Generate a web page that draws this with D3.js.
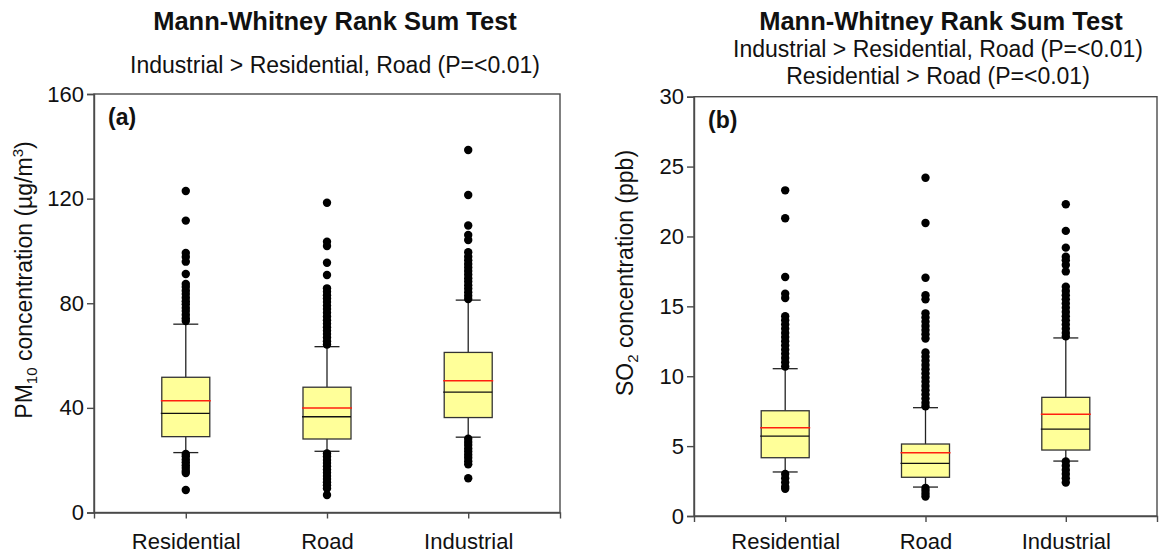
<!DOCTYPE html>
<html>
<head>
<meta charset="utf-8">
<script src="https://cdn.jsdelivr.net/npm/d3@7"></script>
<style>
  html, body { margin: 0; padding: 0; background: #fff; }
  svg { display: block; font-family: "Liberation Sans", Arial, sans-serif; }
</style>
</head>
<body>
<svg id="chart" width="1159" height="553"></svg>
<script>
// ---- data -------------------------------------------------------------
const categories = ["Residential", "Road", "Industrial"];

// PM10 (µg/m3) box statistics per site type
const pm10Q1 = [29.0, 28.1, 36.3];
const pm10Median = [37.9, 36.6, 46.0];
const pm10Q3 = [51.7, 47.9, 61.2];
const pm10Mean = [42.7, 40.0, 50.4];
const pm10WhiskerLow = [22.9, 23.4, 28.8];
const pm10WhiskerHigh = [72.0, 63.4, 81.2];
const pm10OutResidential = [122.9, 111.6, 99.2, 97.7, 95.9, 91.2, 87.4, 86.2, 84.8, 83.5, 82.1, 80.8,
  79.6, 78.2, 77.0, 75.6, 74.3, 73.2, 22.4, 21.5, 20.3, 19.2, 18.1, 17.0, 15.9, 15.1, 8.6];
const pm10OutRoad = [118.4, 103.5, 101.9, 95.5, 90.8, 85.7, 84.4, 83.1, 81.8, 80.5, 79.1, 77.8, 76.4,
  74.9, 73.5, 72.2, 70.8, 69.5, 68.2, 66.9, 65.5, 64.2, 22.6, 21.4, 20.1, 18.9, 17.7, 16.4, 15.2,
  14.0, 12.8, 11.6, 10.4, 9.2, 6.7];
const pm10OutIndustrial = [138.6, 121.4, 109.7, 106.1, 104.2, 99.5, 97.8, 96.4, 95.0, 93.7, 92.3,
  91.0, 89.6, 88.3, 86.9, 85.6, 84.2, 82.9, 81.6, 28.2, 27.0, 25.8, 24.5, 23.3, 22.1, 20.9, 19.6,
  18.4, 13.1];
const pm10Ticks = [0, 40, 80, 120, 160];

// SO2 (ppb) box statistics per site type
const so2Q1 = [4.17, 2.77, 4.72];
const so2Median = [5.72, 3.77, 6.22];
const so2Q3 = [7.53, 5.15, 8.49];
const so2Mean = [6.32, 4.53, 7.28];
const so2WhiskerLow = [3.15, 2.07, 3.93];
const so2WhiskerHigh = [10.54, 7.75, 12.74];
const so2OutResidential = [23.3, 21.3, 17.1, 15.9, 15.6, 14.3, 14.0, 13.7, 13.4, 13.1, 12.8, 12.5,
  12.2, 11.9, 11.6, 11.3, 11.0, 10.7, 3.0, 2.7, 2.4, 2.1, 1.95];
const so2OutRoad = [24.2, 20.96, 17.05, 15.8, 15.5, 14.5, 14.2, 13.9, 13.6, 13.3, 13.0, 12.7, 11.7,
  11.4, 11.1, 10.8, 10.5, 10.2, 9.9, 9.6, 9.3, 9.0, 8.7, 8.4, 8.1, 7.85, 2.0, 1.8, 1.6, 1.4];
const so2OutIndustrial = [22.3, 20.4, 19.2, 18.55, 18.3, 17.96, 17.5, 16.4, 16.1, 15.8, 15.5, 15.2,
  14.9, 14.6, 14.3, 14.0, 13.7, 13.4, 13.1, 12.85, 3.9, 3.6, 3.3, 3.0, 2.7, 2.4];
const so2Ticks = [0, 5, 10, 15, 20, 25, 30];

// ---- drawing ------------------------------------------------------------
const svg = d3.select("#chart");
const FONT = 22;
const axisColor = "#4a4a4a";

function buildRows(q1, med, q3, mean, wLo, wHi, outs) {
  return categories.map((c, i) => ({
    cat: c, q1: q1[i], median: med[i], q3: q3[i], mean: mean[i],
    lo: wLo[i], hi: wHi[i], outliers: outs[i]
  }));
}

function drawPanel(cfg) {
  const { x0, x1, yTop, yBottom, yMax, ticks, rows, tag, labelPad } = cfg;
  const g = svg.append("g");

  const x = d3.scalePoint().domain(categories).range([x0, x1]).padding(0.65);
  const y = d3.scaleLinear().domain([0, yMax]).range([yBottom, yTop]);

  // frame (top and right sides)
  g.append("rect")
    .attr("x", x0).attr("y", yTop)
    .attr("width", x1 - x0).attr("height", yBottom - yTop)
    .attr("fill", "none").attr("stroke", axisColor).attr("stroke-width", 1.4);

  // axes
  const yAxis = g.append("g").attr("transform", `translate(${x0},0)`)
    .call(d3.axisLeft(y).tickValues(ticks).tickSize(7).tickPadding(3).tickFormat(d3.format("d")));
  const xAxis = g.append("g").attr("transform", `translate(0,${yBottom})`)
    .call(d3.axisBottom(x).tickSize(6).tickPadding(labelPad));
  [yAxis, xAxis].forEach(a => {
    a.select(".domain").attr("stroke", axisColor).attr("stroke-width", 1.4);
    a.selectAll(".tick line").attr("stroke", axisColor).attr("stroke-width", 1.4);
    a.selectAll(".tick text").attr("font-size", FONT).attr("fill", "#111")
      .attr("font-family", "Liberation Sans, Arial, sans-serif");
  });

  const boxW = 48, capW = 25, r = 4.2;
  const boxes = g.selectAll("g.box").data(rows).join("g").attr("class", "box");

  // whiskers
  boxes.append("line")
    .attr("x1", d => x(d.cat)).attr("x2", d => x(d.cat))
    .attr("y1", d => y(d.hi)).attr("y2", d => y(d.q3))
    .attr("stroke", "#222").attr("stroke-width", 1.3);
  boxes.append("line")
    .attr("x1", d => x(d.cat)).attr("x2", d => x(d.cat))
    .attr("y1", d => y(d.q1)).attr("y2", d => y(d.lo))
    .attr("stroke", "#222").attr("stroke-width", 1.3);
  boxes.append("line")
    .attr("x1", d => x(d.cat) - capW / 2).attr("x2", d => x(d.cat) + capW / 2)
    .attr("y1", d => y(d.hi)).attr("y2", d => y(d.hi))
    .attr("stroke", "#222").attr("stroke-width", 1.3);
  boxes.append("line")
    .attr("x1", d => x(d.cat) - capW / 2).attr("x2", d => x(d.cat) + capW / 2)
    .attr("y1", d => y(d.lo)).attr("y2", d => y(d.lo))
    .attr("stroke", "#222").attr("stroke-width", 1.3);

  // box body
  boxes.append("rect")
    .attr("x", d => x(d.cat) - boxW / 2).attr("width", boxW)
    .attr("y", d => y(d.q3)).attr("height", d => y(d.q1) - y(d.q3))
    .attr("fill", "#ffff99").attr("stroke", "#333").attr("stroke-width", 1.3);

  // median (black) and mean (red)
  boxes.append("line")
    .attr("x1", d => x(d.cat) - boxW / 2 - 1).attr("x2", d => x(d.cat) + boxW / 2)
    .attr("y1", d => y(d.median)).attr("y2", d => y(d.median))
    .attr("stroke", "#111").attr("stroke-width", 1.3);
  boxes.append("line")
    .attr("x1", d => x(d.cat) - boxW / 2 - 1).attr("x2", d => x(d.cat) + boxW / 2 + 1)
    .attr("y1", d => y(d.mean)).attr("y2", d => y(d.mean))
    .attr("stroke", "#ff2010").attr("stroke-width", 1.5);

  // outliers
  boxes.selectAll("circle").data(d => d.outliers.map(v => ({ cat: d.cat, v })))
    .join("circle")
    .attr("cx", d => x(d.cat)).attr("cy", d => y(d.v)).attr("r", r)
    .attr("fill", "#000");

  // panel tag
  g.append("text").attr("x", x0 + 14).attr("y", yTop + 31)
    .attr("font-size", 23).attr("font-weight", "bold").attr("fill", "#111").text(tag);

  return { x, y };
}

const pm10Rows = buildRows(pm10Q1, pm10Median, pm10Q3, pm10Mean, pm10WhiskerLow, pm10WhiskerHigh,
  [pm10OutResidential, pm10OutRoad, pm10OutIndustrial]);
const so2Rows = buildRows(so2Q1, so2Median, so2Q3, so2Mean, so2WhiskerLow, so2WhiskerHigh,
  [so2OutResidential, so2OutRoad, so2OutIndustrial]);

drawPanel({ x0: 94, x1: 560, yTop: 94, yBottom: 512.5, yMax: 160, ticks: pm10Ticks, rows: pm10Rows, tag: "(a)", labelPad: 15 });
drawPanel({ x0: 694, x1: 1157, yTop: 96.7, yBottom: 516, yMax: 30, ticks: so2Ticks, rows: so2Rows, tag: "(b)", labelPad: 11.5 });

// titles
function addText(x, y, txt, opts = {}) {
  return svg.append("text").attr("x", x).attr("y", y).attr("text-anchor", "middle")
    .attr("font-size", opts.size || FONT).attr("font-weight", opts.bold ? "bold" : "normal")
    .attr("fill", "#111").text(txt);
}
addText(335, 30, "Mann-Whitney Rank Sum Test", { bold: true, size: 25.5 });
addText(335, 73, "Industrial > Residential, Road (P=<0.01)", { size: 23 });
addText(941, 30, "Mann-Whitney Rank Sum Test", { bold: true, size: 25.5 });
addText(938, 57, "Industrial > Residential, Road (P=<0.01)", { size: 23 });
addText(938, 84, "Residential > Road (P=<0.01)", { size: 23 });

// y-axis titles with sub/superscripts
function axisTitle(cx, cy, parts) {
  const t = svg.append("text")
    .attr("transform", `translate(${cx},${cy}) rotate(-90)`)
    .attr("text-anchor", "middle").attr("font-size", 23).attr("fill", "#111");
  parts.forEach(p => {
    const s = t.append("tspan").text(p.t);
    if (p.sub) s.attr("font-size", 15).attr("dy", 5);
    else if (p.sup) s.attr("font-size", 15).attr("dy", -9);
    if (p.reset) s.attr("dy", p.reset);
  });
}
axisTitle(32, 280, [
  { t: "PM" }, { t: "10", sub: true }, { t: " concentration (µg/m", reset: -5 },
  { t: "3", sup: true }, { t: ")", reset: 9 }
]);
axisTitle(633, 273, [
  { t: "SO" }, { t: "2", sub: true }, { t: " concentration (ppb)", reset: -5 }
]);
</script>
</body>
</html>
